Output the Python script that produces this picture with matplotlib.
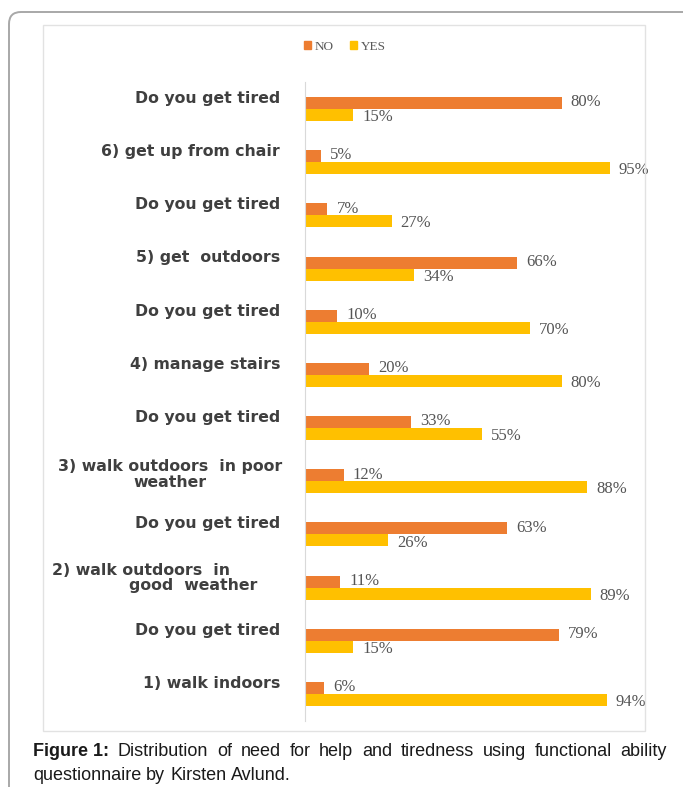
"""Figure 1 - need for help and tiredness (functional ability questionnaire)."""

import matplotlib
matplotlib.use("Agg")
import matplotlib.pyplot as plt
from matplotlib.patches import Patch, Rectangle, FancyBboxPatch

# ── data (top to bottom) ──────────────────────────────────────────────────────
questions = [
    "Do you get tired",
    "6) get up from chair",
    "Do you get tired",
    "5) get  outdoors",
    "Do you get tired",
    "4) manage stairs",
    "Do you get tired",
    "3) walk outdoors  in poor\nweather",
    "Do you get tired",
    "2) walk outdoors  in\n              good  weather",
    "Do you get tired",
    "1) walk indoors",
]
no_pct  = [80, 5, 7, 66, 10, 20, 33, 12, 63, 11, 79, 6]
yes_pct = [15, 95, 27, 34, 70, 80, 55, 88, 26, 89, 15, 94]

caption_bold = "Figure 1:"
caption_text = ("Distribution of need for help and tiredness using functional ability "
                "questionnaire by Kirsten Avlund.")

C_NO, C_YES = "#ED7D31", "#FFC000"
W, H, DPI = 683, 787, 100

fig = plt.figure(figsize=(W / DPI, H / DPI), dpi=DPI)

# outer rounded frame and inner chart area (pixel geometry -> inches)
fig.patches.append(FancyBboxPatch((9 / DPI, -0.3), 7.2, (H - 12) / DPI + 0.3,
                                  boxstyle="round,pad=0,rounding_size=0.12",
                                  transform=fig.dpi_scale_trans, fill=False,
                                  ec="#a8a8a8", lw=1.4))
fig.patches.append(Rectangle((43 / DPI, (H - 731) / DPI), 602 / DPI, 706 / DPI,
                             transform=fig.dpi_scale_trans, fill=False,
                             ec="#e2e2e2", lw=1.0))

# ── bar axes ─────────────────────────────────────────────────────────────────
x0, x100 = 305, 626
ytop, ybot = 82.4, 720.6
ax = fig.add_axes([x0 / W, 1 - ybot / H, (x100 - x0) / W, (ybot - ytop) / H])

n = len(questions)
ys = list(range(n))
bh = 0.225
ax.barh([y - bh / 2 for y in ys], no_pct, height=bh, color=C_NO)
ax.barh([y + bh / 2 for y in ys], yes_pct, height=bh, color=C_YES)

ax.set_xlim(0, 100)
ax.set_ylim(n - 0.5, -0.5)
for s in ("top", "right", "bottom"):
    ax.spines[s].set_visible(False)
ax.spines["left"].set_color("#d9d9d9")
ax.set_xticks([])
ax.set_yticks([])
ax.patch.set_alpha(0)

lab_kw = dict(fontsize=12, family="Liberation Serif", color="#555555",
              va="center", ha="left", textcoords="offset points")
for y, v in zip(ys, no_pct):
    ax.annotate(f"{v}%", (v, y - bh / 2), xytext=(6.5, 0.5), **lab_kw)
for y, v in zip(ys, yes_pct):
    ax.annotate(f"{v}%", (v, y + bh / 2), xytext=(6.5, -1.5), **lab_kw)

# category labels (right edge in pixels from the axis line)
px = 100 / (x100 - x0)
for y, q in zip(ys, questions):
    if q.startswith("3)"):
        xr, dy, ma = -23, -0.13, "center"
    elif q.startswith("2)"):
        xr, dy, ma = -48, -0.18, "left"
    else:
        xr, dy, ma = -25, -0.2, "left"
    ax.text(xr * px, y + dy, q, ha="right", va="center", fontsize=11.3,
            fontweight="bold", color="#3f3f3f", family="DejaVu Sans",
            multialignment=ma, linespacing=1.05, clip_on=False)

# legend
handles = [Patch(color=C_NO, label="NO"), Patch(color=C_YES, label="YES")]
fig.legend(handles=handles, loc="center", bbox_to_anchor=(345 / W, 1 - 47 / H),
           ncol=2, frameon=False, handlelength=0.55, handleheight=0.55,
           handletextpad=0.3, columnspacing=1.2,
           prop=dict(family="Liberation Serif", size=9.5))
for t in fig.legends[0].get_texts():
    t.set_color("#595959")

# ── caption, justified first line ────────────────────────────────────────────
fig.canvas.draw()
r = fig.canvas.get_renderer()
cap_kw = dict(fontsize=13, family="Liberation Sans", color="#1a1a1a",
              va="center", transform=None)
words = [(caption_bold, "bold")] + [(w, "normal") for w in caption_text.split()]
left, right = 33, 667
tmp = fig.text(0, 0, "", **cap_kw)
widths = []
for w, wt in words:
    tmp.set_text(w)
    tmp.set_fontweight(wt)
    widths.append(tmp.get_window_extent(r).width)
tmp.set_fontweight("normal")
tmp.set_text("a b")
wab = tmp.get_window_extent(r).width
tmp.set_text("ab")
sp = wab - tmp.get_window_extent(r).width
tmp.remove()

line1, line2 = [], []
cur = 0
for i in range(len(words)):
    need = widths[i] + (sp if line1 else 0)
    if not line2 and cur + need <= right - left:
        line1.append(i)
        cur += need
    else:
        line2.append(i)

y1, y2 = H - 752, H - 775
gap = (right - left - sum(widths[i] for i in line1)) / (len(line1) - 1)
x = left
for i in line1:
    fig.text(x, y1, words[i][0], fontweight=words[i][1], ha="left", **cap_kw)
    x += widths[i] + gap
x = left
for i in line2:
    fig.text(x, y2, words[i][0], fontweight=words[i][1], ha="left", **cap_kw)
    x += widths[i] + sp

fig.savefig("out.png", dpi=DPI)
